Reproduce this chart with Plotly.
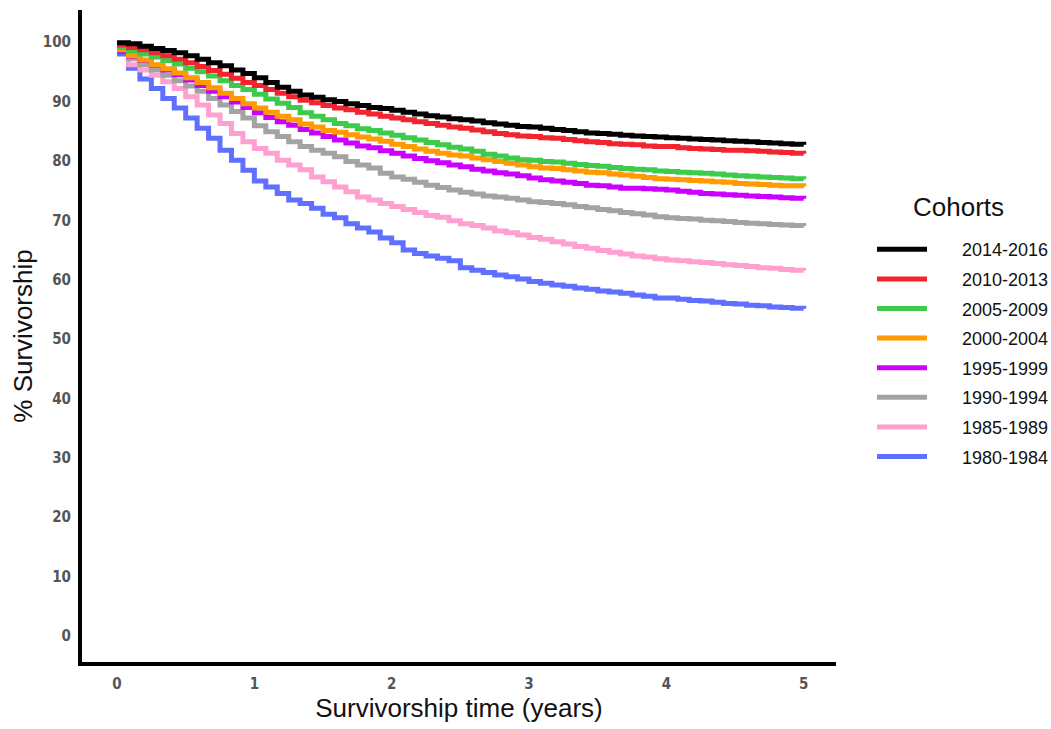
import plotly.graph_objects as go

# Survivorship time grid (years), monthly steps
time_years = [m / 12 for m in range(61)]

cohorts = ["1980-1984", "1985-1989", "1990-1994", "1995-1999",
           "2000-2004", "2005-2009", "2010-2013", "2014-2016"]

surv_1980_1984 = [98.0, 95.6, 93.8, 92.2, 90.5, 88.9, 87.2, 85.5, 83.8, 81.8, 80.1, 78.4, 76.6,
                  75.6, 74.5, 73.4, 72.8, 72.0, 71.0, 70.4, 69.4, 68.7, 68.0, 67.0, 66.2,
                  65.0, 64.4, 64.0, 63.6, 63.2, 62.0, 61.6, 61.2, 60.8, 60.5, 60.1, 59.7,
                  59.4, 59.1, 58.9, 58.6, 58.4, 58.1, 57.9, 57.7, 57.4, 57.2, 56.9, 56.9,
                  56.7, 56.5, 56.4, 56.2, 56.0, 55.9, 55.7, 55.6, 55.4, 55.3, 55.2, 55.1]
surv_1985_1989 = [98.5, 96.2, 95.3, 94.4, 93.3, 92.2, 90.8, 89.4, 87.7, 86.3, 84.6, 83.2, 82.1,
                  81.3, 80.1, 79.3, 78.5, 77.3, 76.5, 75.6, 74.8, 73.9, 73.4, 72.8, 72.3,
                  71.8, 71.3, 70.8, 70.5, 69.9, 69.4, 69.1, 68.7, 68.2, 67.9, 67.5, 67.1,
                  66.8, 66.4, 66.0, 65.6, 65.3, 64.9, 64.6, 64.3, 64.0, 63.8, 63.5, 63.3,
                  63.2, 63.0, 62.9, 62.7, 62.5, 62.4, 62.2, 62.0, 61.9, 61.7, 61.6, 61.5]
surv_1990_1994 = [98.6, 97.2, 96.2, 95.3, 94.4, 93.5, 92.6, 91.7, 90.5, 89.4, 88.3, 87.2, 85.9,
                  84.9, 84.1, 83.2, 82.4, 81.8, 81.3, 80.7, 79.9, 79.3, 78.8, 77.9, 77.3,
                  76.9, 76.4, 75.9, 75.5, 75.1, 74.7, 74.4, 74.1, 73.9, 73.7, 73.4, 73.1,
                  73.0, 72.8, 72.6, 72.3, 72.1, 71.8, 71.6, 71.3, 71.1, 70.9, 70.6, 70.4,
                  70.3, 70.2, 70.0, 69.9, 69.8, 69.6, 69.5, 69.4, 69.3, 69.2, 69.1, 69.0]
surv_1995_1999 = [98.4, 97.6, 96.9, 96.1, 95.3, 94.5, 93.6, 92.7, 91.7, 90.8, 89.9, 89.0, 88.1,
                  87.3, 86.6, 86.0, 85.3, 84.7, 84.1, 83.5, 83.0, 82.5, 82.2, 81.7, 81.3,
                  80.8, 80.4, 80.0, 79.7, 79.3, 79.0, 78.6, 78.3, 78.0, 77.8, 77.5, 77.1,
                  76.8, 76.6, 76.4, 76.2, 75.9, 75.8, 75.6, 75.4, 75.4, 75.3, 75.2, 75.1,
                  74.9, 74.7, 74.5, 74.4, 74.3, 74.2, 74.1, 74.0, 73.9, 73.8, 73.7, 73.6]
surv_2000_2004 = [98.7, 97.7, 97.0, 96.2, 95.5, 94.8, 94.0, 93.2, 92.3, 91.4, 90.5, 89.6, 88.9,
                  88.2, 87.5, 86.9, 86.2, 85.7, 85.1, 84.8, 84.4, 84.0, 83.7, 83.3, 82.8,
                  82.4, 82.0, 81.6, 81.3, 81.0, 80.8, 80.5, 80.2, 79.9, 79.6, 79.3, 79.0,
                  78.8, 78.7, 78.5, 78.3, 78.1, 78.0, 77.8, 77.6, 77.4, 77.2, 77.0, 76.9,
                  76.8, 76.7, 76.6, 76.5, 76.4, 76.2, 76.1, 76.0, 75.9, 75.8, 75.8, 75.7]
surv_2005_2009 = [99.1, 98.5, 98.0, 97.5, 96.9, 96.3, 95.6, 95.0, 94.3, 93.5, 92.7, 92.0, 91.2,
                  90.4, 89.7, 89.0, 88.1, 87.5, 86.9, 86.3, 85.9, 85.4, 85.1, 84.7, 84.3,
                  83.9, 83.5, 83.1, 82.7, 82.3, 82.0, 81.6, 81.1, 80.8, 80.5, 80.2, 80.1,
                  79.9, 79.8, 79.6, 79.4, 79.2, 79.1, 78.9, 78.7, 78.6, 78.5, 78.3, 78.2,
                  78.1, 78.0, 77.9, 77.8, 77.6, 77.5, 77.4, 77.3, 77.2, 77.1, 77.0, 76.9]
surv_2010_2013 = [99.5, 99.1, 98.7, 98.2, 97.7, 97.1, 96.5, 95.9, 95.2, 94.6, 93.9, 93.2, 92.7,
                  92.0, 91.4, 90.8, 90.2, 89.8, 89.3, 88.9, 88.6, 88.2, 87.9, 87.5, 87.2,
                  86.9, 86.6, 86.3, 86.0, 85.7, 85.5, 85.2, 84.9, 84.6, 84.4, 84.2, 84.1,
                  83.9, 83.8, 83.6, 83.4, 83.2, 83.1, 82.9, 82.8, 82.7, 82.5, 82.4, 82.4,
                  82.2, 82.1, 82.0, 81.9, 81.8, 81.8, 81.7, 81.6, 81.5, 81.4, 81.3, 81.2]
surv_2014_2016 = [99.9, 99.7, 99.3, 98.9, 98.6, 98.2, 97.7, 97.1, 96.5, 96.0, 95.3, 94.7, 94.0,
                  93.2, 92.4, 91.7, 91.1, 90.7, 90.3, 90.0, 89.6, 89.3, 89.0, 88.8, 88.5,
                  88.2, 87.9, 87.6, 87.4, 87.1, 86.9, 86.7, 86.4, 86.2, 86.0, 85.8, 85.7,
                  85.5, 85.3, 85.1, 84.9, 84.7, 84.6, 84.5, 84.3, 84.2, 84.1, 84.0, 83.9,
                  83.8, 83.7, 83.6, 83.5, 83.4, 83.3, 83.2, 83.1, 83.0, 82.9, 82.8, 82.7]

series = [surv_1980_1984, surv_1985_1989, surv_1990_1994, surv_1995_1999,
          surv_2000_2004, surv_2005_2009, surv_2010_2013, surv_2014_2016]
colors = ["#5F6FFF", "#FFA0D0", "#A3A3A3", "#CC00FF",
          "#FF9A00", "#3CCB4A", "#F2242F", "#000000"]

x_ticks = [0, 1, 2, 3, 4, 5]
y_ticks = [0, 10, 20, 30, 40, 50, 60, 70, 80, 90, 100]

fig = go.Figure()
n = len(cohorts)
for i, (name, vals, col) in enumerate(zip(cohorts, series, colors)):
    fig.add_trace(go.Scatter(
        x=time_years, y=vals, name="\u00a0" * 6 + name, mode="lines",
        line=dict(color=col, width=5, shape="hv"),
        legendgroup=name, legendrank=n - i,
    ))

tick_font = dict(family="Liberation Sans Narrow, DejaVu Sans Condensed, Arial Narrow, sans-serif",
                 size=15, color="#555555", weight="bold")

fig.update_layout(
    width=1051, height=729,
    paper_bgcolor="white", plot_bgcolor="white",
    margin=dict(l=82, r=215, t=10, b=67),
    font=dict(family="Liberation Sans, Arial, sans-serif", color="#111111"),
    xaxis=dict(
        range=[-0.255, 5.235], tickvals=x_ticks, ticktext=[str(v) for v in x_ticks],
        showgrid=False, zeroline=False, showline=True, linewidth=4, linecolor="black",
        ticks="", tickfont=tick_font, ticklabelstandoff=5,
        title=dict(text="Survivorship time (years)", font=dict(size=26, color="#111111"), standoff=6),
    ),
    yaxis=dict(
        range=[-4.38, 105.4], tickvals=y_ticks, ticktext=[str(v) for v in y_ticks],
        showgrid=False, zeroline=False, showline=True, linewidth=4, linecolor="black",
        ticks="", tickfont=tick_font, ticklabelstandoff=4,
        title=dict(text="% Survivorship", font=dict(size=26, color="#111111"), standoff=4),
    ),
    legend=dict(
        xref="container", yref="container",
        x=0.8297, xanchor="left", y=0.683, yanchor="top",
        traceorder="grouped", tracegroupgap=3.2,
        itemwidth=50,
        font=dict(size=18, color="#111111"),
        bgcolor="rgba(0,0,0,0)",
    ),
    annotations=[dict(
        text="Cohorts", x=1.163, y=0.698, xref="paper", yref="paper",
        xanchor="center", yanchor="middle", showarrow=False,
        font=dict(size=26, color="#111111"),
    )],
)

fig.write_html("out.html")
